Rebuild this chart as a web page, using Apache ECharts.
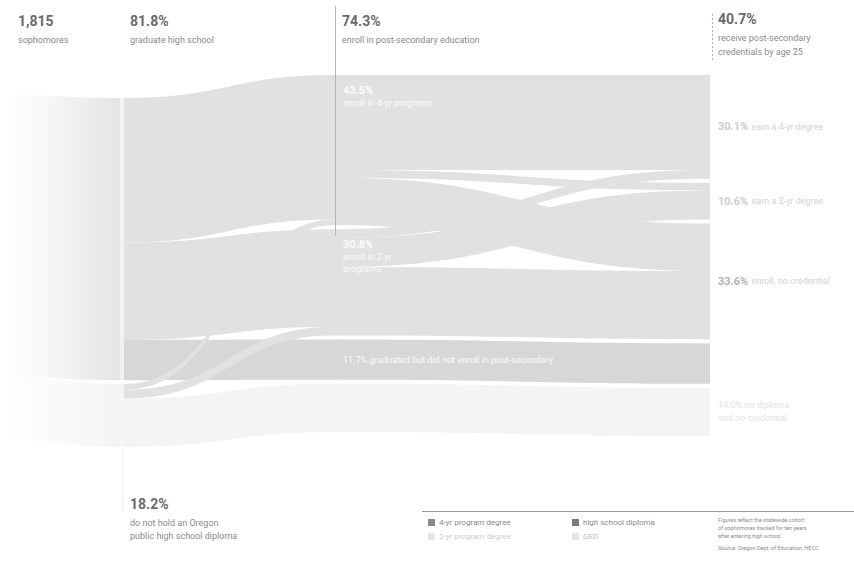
<!DOCTYPE html>
<html><head><meta charset="utf-8">
<script src="https://cdn.jsdelivr.net/npm/echarts@6/dist/echarts.min.js"></script>
<style>html,body{margin:0;padding:0;background:#fff}#c{width:854px;height:571px}</style>
</head><body><div id="c"></div>
<script>
// ---- data ----
const nodeNames = ['sophomores','high school graduates','no diploma','enroll 4-yr','enroll 2-yr','graduates not enrolled','non-graduates not enrolled','4-yr degree','2-yr degree','no credential','graduates, no post-secondary','no diploma, no post-secondary'];
const nodeColumn = [0,1,1,2,2,2,2,3,3,3,3,3];
const nodeLabels = ['','','','{p|43.5%}\n{t|enroll in 4-yr programs}','{p|30.8%}\n{t|enroll in 2-yr}\n{t|programs}','{t|11.7% graduated but did not enroll in post-secondary}','','{p|30.1%} {t|earn a 4-yr degree}','{p|10.6%} {t|earn a 2-yr degree}','{p|33.6%} {t|enroll, no credential}','','{t|14.0% no diploma}\n{t|and no credential}'];
const fadedNodes = [2,6,11];
const linkFrom  = [0,0,1,1,1,2,2,2,3,3,3,4,4,4,5,6];
const linkTo    = [1,2,3,4,5,3,4,6,7,8,9,7,8,9,10,11];
const linkValue = [1485,330,760,513,212,30,46,254,500,40,250,46,153,360,212,254];
const headerValues = ['1,815','81.8%','74.3%','40.7%'];
const headerTexts = ['sophomores','graduate high school','enroll in post-secondary education','receive post-secondary\ncredentials by age 25'];
const legendItems = ['4-yr program degree','high school diploma','2-yr program degree','GED'];

// ---- layout / style ----
const seriesLeft = 0, seriesRight = 144, seriesTop = 75, seriesBottom = 135;
const seriesWidth = 854 - seriesLeft - seriesRight;
const seriesHeight = 571 - seriesTop - seriesBottom;
const columnPx = [0, 120, 335, 706];
// vertical placement hints for the two left columns (px from top of page)
const leftColumnTop = {0: 95, 1: 98, 2: 384};
const MAIN = '#e1e1e1', BAND = '#d7d7d7', FADE = '#f4f4f4';

const nodes = nodeNames.map((n, i) => {
  const col = nodeColumn[i];
  const faded = fadedNodes.includes(i);
  let color = MAIN;
  if (col === 0) color = '#ffffff';
  else if (col === 1) color = faded ? '#f6f6f6' : '#f2f2f2';
  else if (faded) color = FADE;
  else if (i === 5 || i === 10) color = BAND;
  const lab = nodeLabels[i];
  let label = {show: false};
  if (lab) {
    if (col === 2) {
      label = {show: true, position: i === 5 ? 'insideLeft' : 'insideTopLeft', distance: 8,
        formatter: lab, color: '#fff',
        rich: {p: {fontSize: 11, fontWeight: 'bold', color: '#fbfbfb', fontFamily: 'Roboto', lineHeight: 14},
               t: {fontSize: 9, color: '#fbfbfb', fontFamily: 'Roboto', lineHeight: 12}}};
    } else {
      label = {show: true, position: 'right', distance: 8, formatter: lab,
        rich: {p: {fontSize: 11, fontWeight: 'bold', color: faded ? '#e6e6e6' : (i === 9 ? '#b4b4b4' : '#cdcdcd'), fontFamily: 'Roboto'},
               t: {fontSize: 9, color: faded ? '#e2e2e2' : '#d2d2d2', fontFamily: 'Roboto', lineHeight: 13}}};
    }
  }
  const item = {name: n, depth: col, localX: columnPx[col] / seriesWidth,
          itemStyle: {color: color, borderWidth: 0}, label: label};
  if (leftColumnTop[i] != null) item.localY = (leftColumnTop[i] - seriesTop) / seriesHeight;
  return item;
});

const links = linkFrom.map((s, i) => {
  const t = linkTo[i];
  let color = MAIN;
  if (s === 0) {
    color = {type: 'linear', x: 0, y: 0, x2: 1, y2: 0,
      colorStops: t === 1 ? [{offset: 0, color: '#ffffff'}, {offset: 0.35, color: '#f8f8f8'}, {offset: 1, color: '#e4e4e4'}]
                          : [{offset: 0, color: '#ffffff'}, {offset: 1, color: '#f4f4f4'}]};
  } else if (fadedNodes.includes(t)) color = FADE;
  else if (t === 5 || t === 10) color = BAND;
  return {source: nodeNames[s], target: nodeNames[t], value: linkValue[i], lineStyle: {color: color, opacity: 1, curveness: 0.5}};
});

const headerX = [18, 130, 342, 718];
const graphics = [];
headerValues.forEach((v, i) => {
  const y0 = i === 3 ? 12 : 14;
  graphics.push({type: 'text', left: headerX[i], top: y0, style: {text: v, font: 'bold 14px Roboto', fill: '#6a6a6a'}});
  graphics.push({type: 'text', left: headerX[i], top: y0 + 19, style: {text: headerTexts[i], font: '9px Roboto', fill: '#8a8a8a', lineHeight: 14}});
});
graphics.push({type: 'line', shape: {x1: 335.5, y1: 6, x2: 335.5, y2: 236}, style: {stroke: '#b5b5b5', lineWidth: 1}, z: 100});
graphics.push({type: 'line', shape: {x1: 712.5, y1: 14, x2: 712.5, y2: 62}, style: {stroke: '#b0b0b0', lineWidth: 1, lineDash: [2, 2]}});
graphics.push({type: 'line', shape: {x1: 122.5, y1: 448, x2: 122.5, y2: 512}, style: {stroke: '#eeeeee', lineWidth: 1}});
graphics.push({type: 'text', left: 130, top: 497, style: {text: '18.2%', font: 'bold 14px Roboto', fill: '#6a6a6a'}});
graphics.push({type: 'text', left: 130, top: 516, style: {text: 'do not hold an Oregon\npublic high school diploma', font: '9px Roboto', fill: '#8a8a8a', lineHeight: 13}});
// legend
graphics.push({type: 'line', shape: {x1: 422, y1: 511.5, x2: 854, y2: 511.5}, style: {stroke: '#9a9a9a', lineWidth: 1}});
const legX = [428, 572, 428, 572], legY = [519, 519, 533, 533];
const legSw = ['#8a8a8a', '#7a7a7a', '#e6e6e6', '#e6e6e6'];
const legTx = ['#8a8a8a', '#8a8a8a', '#cccccc', '#bbbbbb'];
legendItems.forEach((t, i) => {
  graphics.push({type: 'rect', shape: {x: legX[i], y: legY[i], width: 7, height: 7}, style: {fill: legSw[i]}});
  graphics.push({type: 'text', left: legX[i] + 11, top: legY[i] - 1, style: {text: t, font: '8px Roboto', fill: legTx[i]}});
});
graphics.push({type: 'text', left: 718, top: 516, style: {text: 'Figures reflect the statewide cohort\nof sophomores tracked for ten years\nafter entering high school.', font: '5.5px Roboto', fill: '#8a8a8a', lineHeight: 8}});
graphics.push({type: 'text', left: 718, top: 545, style: {text: 'Source: Oregon Dept. of Education, HECC', font: '5.5px Roboto', fill: '#8a8a8a'}});

const chart = echarts.init(document.getElementById('c'), null, {renderer: 'svg'});
chart.setOption({
  backgroundColor: '#fff',
  animation: false,
  series: [{
    type: 'sankey',
    left: seriesLeft, right: seriesRight, top: seriesTop, bottom: seriesBottom,
    nodeWidth: 4, nodeGap: 4, layoutIterations: 0, draggable: false,
    emphasis: {disabled: true},
    data: nodes, links: links
  }],
  graphic: graphics
});
</script></body></html>
